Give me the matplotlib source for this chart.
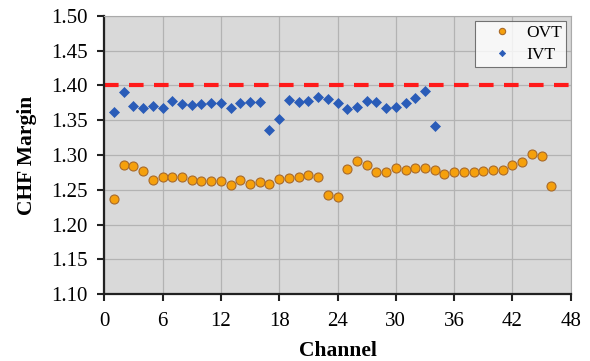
import matplotlib
matplotlib.use("Agg")
import matplotlib.pyplot as plt

channels_ovt = list(range(1, 47))
ovt = [1.237, 1.285, 1.284, 1.277, 1.264, 1.268, 1.269, 1.268, 1.264, 1.263,
       1.262, 1.262, 1.257, 1.264, 1.259, 1.261, 1.259, 1.265, 1.267, 1.268,
       1.271, 1.268, 1.243, 1.240, 1.280, 1.292, 1.285, 1.276, 1.276, 1.282,
       1.279, 1.281, 1.281, 1.278, 1.272, 1.276, 1.275, 1.275, 1.277, 1.279,
       1.278, 1.285, 1.290, 1.301, 1.299, 1.256]

channels_ivt = list(range(1, 35))
ivt = [1.362, 1.390, 1.370, 1.368, 1.370, 1.367, 1.378, 1.373, 1.372, 1.373,
       1.375, 1.374, 1.368, 1.375, 1.376, 1.376, 1.336, 1.351, 1.379, 1.376,
       1.377, 1.383, 1.381, 1.375, 1.366, 1.369, 1.378, 1.376, 1.367, 1.369,
       1.374, 1.382, 1.392, 1.341]

limit = 1.40
xticks = list(range(0, 49, 6))
yticks = [1.10, 1.15, 1.20, 1.25, 1.30, 1.35, 1.40, 1.45, 1.50]

plt.rcParams['font.family'] = ['Liberation Serif', 'DejaVu Serif']

fig = plt.figure(figsize=(5.9, 3.61), dpi=100)
ax = fig.add_axes([0.1768, 0.1848, 0.7905, 0.7717])
ax.set_facecolor('#d9d9d9')

ax.set_xlim(0, 48)
ax.set_ylim(1.10, 1.50)
ax.set_xticks(xticks)
ax.set_yticks(yticks)
ax.set_yticklabels([f"{v:.2f}" for v in yticks])
ax.grid(True, color='#b3b3b3', linewidth=0.9)
ax.set_axisbelow(True)

ax.axhline(limit, color='#ff1a1a', linewidth=3, dashes=(3.5, 2.5), zorder=2)

ax.plot(channels_ovt, ovt, linestyle='none', marker='o', markersize=6.5,
        markerfacecolor='#f5a00c', markeredgecolor='#a86a2a', markeredgewidth=0.8,
        label='OVT', zorder=3)
ax.plot(channels_ivt, ivt, linestyle='none', marker='D', markersize=4.6,
        markerfacecolor='#2a5cb8', markeredgecolor='#2a5cb8', markeredgewidth=0.5,
        label='IVT', zorder=3)

for s in ['top', 'right']:
    ax.spines[s].set_color('#aaaaaa')
    ax.spines[s].set_linewidth(0.8)
for s in ['left', 'bottom']:
    ax.spines[s].set_color('#222222')
    ax.spines[s].set_linewidth(1.6)

ax.tick_params(axis='both', direction='out', length=5, width=1.5,
               color='#222222', labelsize=15)
ax.tick_params(axis='x', pad=8)
ax.tick_params(axis='y', pad=7)

ax.set_xlabel('Channel', fontsize=15.5, fontweight='bold', labelpad=7)
ax.set_ylabel('CHF Margin', fontsize=15.5, fontweight='bold', labelpad=10)

leg = ax.legend(loc='upper right', bbox_to_anchor=(566 / 590, 1 - 21 / 361),
                bbox_transform=fig.transFigure, borderaxespad=0,
                fontsize=12.5, frameon=True, fancybox=False, edgecolor='#555555',
                handlelength=2.7, handletextpad=0.0, markerscale=0.7,
                borderpad=0.25, labelspacing=0.3)
leg.get_frame().set_linewidth(0.8)

fig.savefig('out.png', dpi=100)
